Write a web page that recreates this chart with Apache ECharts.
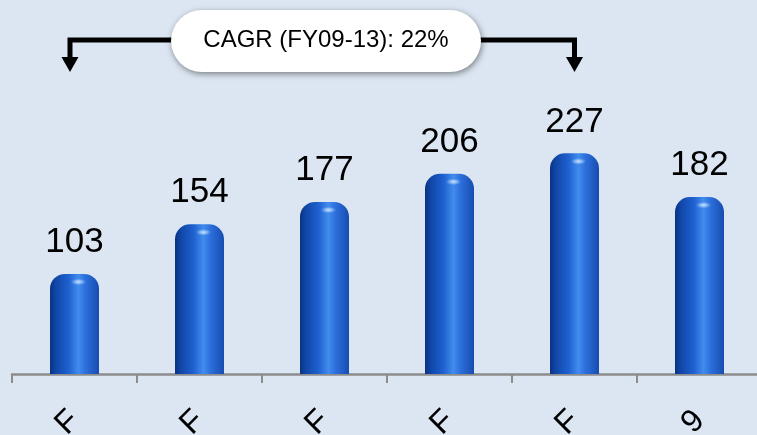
<!DOCTYPE html>
<html>
<head>
<meta charset="utf-8">
<script src="https://cdn.jsdelivr.net/npm/echarts@6/dist/echarts.min.js"></script>
<style>
html,body{margin:0;padding:0;background:#dce6f2;}
#c{width:757px;height:435px;}
</style>
</head>
<body>
<div id="c"></div>
<script>
var categories = ['FY09', 'FY10', 'FY11', 'FY12', 'FY13', '9MFY14'];
var values = [103, 154, 177, 206, 227, 182];
var cagrText = 'CAGR (FY09-13): 22%';

var chart = echarts.init(document.getElementById('c'), null, {renderer: 'canvas'});

var barGrad = new echarts.graphic.LinearGradient(0, 0, 1, 0, [
  {offset: 0, color: '#0a3282'},
  {offset: 0.12, color: '#1047a8'},
  {offset: 0.38, color: '#1f61d0'},
  {offset: 0.58, color: '#428cee'},
  {offset: 0.72, color: '#2d70dc'},
  {offset: 1, color: '#174cb0'}
]);

var hiGrad = new echarts.graphic.RadialGradient(0.5, 0.5, 0.5, [
  {offset: 0, color: 'rgba(255,255,255,0.95)'},
  {offset: 0.5, color: 'rgba(200,230,255,0.6)'},
  {offset: 1, color: 'rgba(120,180,255,0)'}
]);

var option = {
  backgroundColor: '#dce6f2',
  animation: false,
  grid: {left: 12, width: 750, top: 131, bottom: 61, containLabel: false, outerBoundsMode: 'none'},
  xAxis: {
    type: 'category',
    data: categories,
    boundaryGap: true,
    axisLine: {show: true, lineStyle: {color: '#8c8c8c', width: 2.5}},
    axisTick: {show: true, length: 9, lineStyle: {color: '#8c8c8c', width: 2}},
    axisLabel: {
      interval: 0,
      rotate: 45,
      margin: 5,
      align: 'right',
      verticalAlign: 'top',
      padding: [0, 26, 0, 0],
      lineHeight: 52,
      hideOverlap: false,
      fontFamily: 'Liberation Sans, Arial, sans-serif',
      fontSize: 32,
      color: '#000',
      formatter: function (v) { return v.split('').join('\n'); }
    }
  },
  yAxis: {type: 'value', min: 0, max: 250, show: false, splitLine: {show: false}},
  series: [
    {
      type: 'bar',
      data: values,
      barWidth: 49,
      itemStyle: {color: barGrad, borderRadius: [15, 15, 0, 0]},
      label: {
        show: true,
        position: 'top',
        distance: 14,
        fontFamily: 'Liberation Sans, Arial, sans-serif',
        fontSize: 35,
        color: '#000'
      },
      z: 2
    },
    {
      type: 'scatter',
      data: values,
      symbol: 'circle',
      symbolSize: [16, 7],
      symbolOffset: [4, 8],
      itemStyle: {color: hiGrad},
      silent: true,
      z: 3
    }
  ]
};
chart.setOption(option);

// CAGR annotation spanning FY09 to FY13
var p0 = chart.convertToPixel({seriesIndex: 0}, [0, values[0]]);
var p4 = chart.convertToPixel({seriesIndex: 0}, [4, values[4]]);
var lx = p0[0] - 4.5, rx = p4[0];
var boxL = 171, boxR = 481, boxT = 10, boxB = 72;
var yLine = 40, yEnd = 72, headH = 15, headW = 8.5;
chart.setOption({
  graphic: [
    {type: 'polyline', shape: {points: [[boxL + 5, yLine], [lx, yLine], [lx, yEnd - headH + 1]]},
     style: {stroke: '#000', lineWidth: 5, fill: null}, z: 10},
    {type: 'polygon', shape: {points: [[lx - headW, yEnd - headH], [lx + headW, yEnd - headH], [lx, yEnd]]},
     style: {fill: '#000'}, z: 10},
    {type: 'polyline', shape: {points: [[boxR - 5, yLine], [rx, yLine], [rx, yEnd - headH + 1]]},
     style: {stroke: '#000', lineWidth: 5, fill: null}, z: 10},
    {type: 'polygon', shape: {points: [[rx - headW, yEnd - headH], [rx + headW, yEnd - headH], [rx, yEnd]]},
     style: {fill: '#000'}, z: 10},
    {type: 'rect', shape: {x: boxL, y: boxT, width: boxR - boxL, height: boxB - boxT, r: 31},
     style: {fill: '#ffffff', shadowBlur: 6, shadowColor: 'rgba(0,0,0,0.45)', shadowOffsetX: 1, shadowOffsetY: 2},
     z: 11},
    {type: 'text', x: (boxL + boxR) / 2, y: (boxT + boxB) / 2 - 1,
     style: {text: cagrText, fill: '#000', fontSize: 24, fontFamily: 'Liberation Sans, Arial, sans-serif',
             align: 'center', verticalAlign: 'middle'}, z: 12}
  ]
});
</script>
</body>
</html>
